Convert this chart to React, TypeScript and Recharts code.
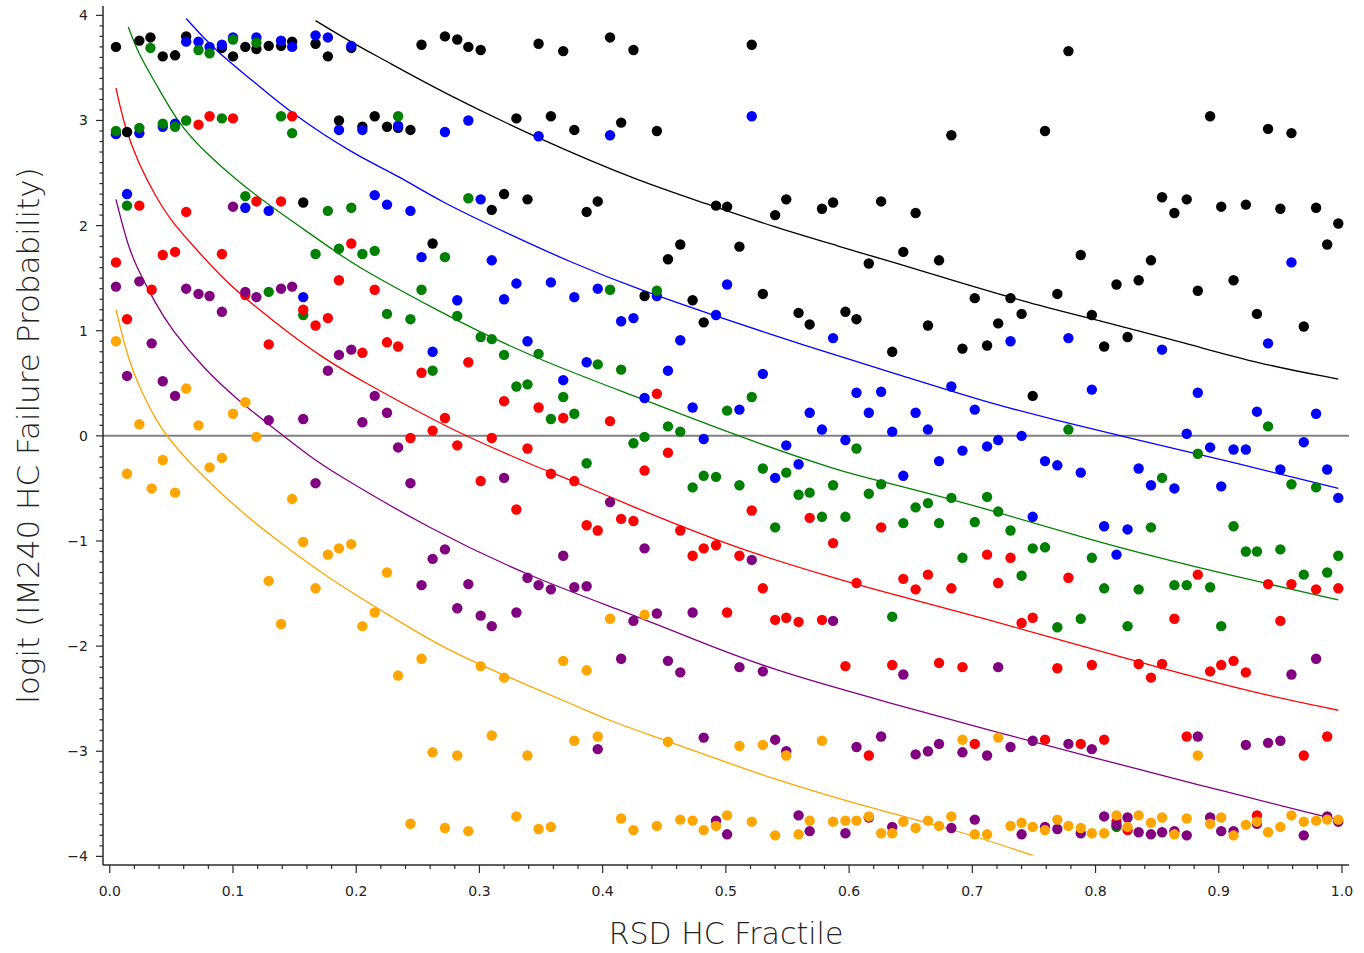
import { ComposedChart, Scatter, Line, XAxis, YAxis, ReferenceLine } from "recharts"

type Pt = [number, number]

// ── observed points (x = RSD HC fractile, y = logit failure probability) ─────

const blackPts: Pt[] = [
  [0.005, 3.70], [0.014, 2.89], [0.024, 3.76], [0.033, 3.79], [0.043, 3.61], [0.053, 3.62],
  [0.062, 3.80], [0.091, 3.69], [0.100, 3.61], [0.110, 3.70], [0.119, 3.68], [0.129, 3.71],
  [0.139, 3.71], [0.148, 3.75], [0.157, 2.22], [0.167, 3.73], [0.177, 3.61], [0.186, 3.00],
  [0.196, 3.69], [0.205, 2.94], [0.215, 3.04], [0.225, 2.94], [0.234, 2.93], [0.244, 2.91],
  [0.253, 3.72], [0.262, 1.83], [0.272, 3.80], [0.282, 3.77], [0.291, 3.70], [0.301, 3.67],
  [0.310, 2.15], [0.320, 2.30], [0.330, 3.02], [0.339, 2.25], [0.348, 3.73], [0.358, 3.04],
  [0.368, 3.66], [0.377, 2.91], [0.387, 2.13], [0.396, 2.23], [0.406, 3.79], [0.415, 2.98],
  [0.425, 3.67], [0.434, 1.33], [0.444, 2.90], [0.453, 1.68], [0.463, 1.82], [0.473, 1.29],
  [0.482, 1.08], [0.492, 2.19], [0.501, 2.18], [0.511, 1.80], [0.521, 3.72], [0.530, 1.35],
  [0.540, 2.10], [0.549, 2.25], [0.559, 1.17], [0.568, 1.06], [0.578, 2.16], [0.587, 2.22],
  [0.597, 1.18], [0.606, 1.11], [0.616, 1.64], [0.626, 2.23], [0.635, 0.80], [0.644, 1.75],
  [0.654, 2.12], [0.664, 1.05], [0.673, 1.67], [0.683, 2.86], [0.692, 0.83], [0.702, 1.31],
  [0.712, 0.86], [0.721, 1.07], [0.731, 1.31], [0.740, 1.16], [0.749, 0.38], [0.759, 2.90],
  [0.769, 1.35], [0.778, 3.66], [0.788, 1.72], [0.797, 1.15], [0.807, 0.85], [0.817, 1.44],
  [0.826, 0.94], [0.835, 1.48], [0.845, 1.67], [0.854, 2.27], [0.864, 2.12], [0.874, 2.25],
  [0.883, 1.38], [0.893, 3.04], [0.902, 2.18], [0.912, 1.48], [0.922, 2.20], [0.931, 1.16],
  [0.940, 2.92], [0.950, 2.16], [0.959, 2.88], [0.969, 1.04], [0.979, 2.17], [0.988, 1.82],
  [0.997, 2.02],
]

const bluePts: Pt[] = [
  [0.005, 2.87], [0.014, 2.30], [0.024, 2.88], [0.043, 2.94], [0.053, 2.97], [0.062, 3.75],
  [0.072, 3.75], [0.081, 3.70], [0.091, 3.72], [0.100, 3.79], [0.110, 2.17], [0.119, 3.79],
  [0.129, 2.14], [0.139, 3.76], [0.148, 3.70], [0.157, 1.32], [0.167, 3.81], [0.177, 3.79],
  [0.186, 2.91], [0.196, 3.71], [0.205, 2.91], [0.215, 2.29], [0.225, 2.20], [0.234, 2.95],
  [0.244, 2.14], [0.253, 1.70], [0.262, 0.80], [0.272, 2.89], [0.282, 1.29], [0.291, 3.00],
  [0.301, 2.25], [0.310, 1.67], [0.320, 1.30], [0.330, 1.45], [0.339, 0.90], [0.348, 2.85],
  [0.358, 1.46], [0.368, 0.53], [0.377, 1.32], [0.387, 0.70], [0.396, 1.40], [0.406, 2.86],
  [0.415, 1.09], [0.425, 1.12], [0.434, 0.36], [0.444, 1.33], [0.453, 0.62], [0.463, 0.91],
  [0.473, 0.27], [0.482, -0.03], [0.492, 1.15], [0.501, 1.44], [0.511, 0.25], [0.521, 3.04],
  [0.530, 0.59], [0.540, -0.40], [0.549, -0.09], [0.559, -0.27], [0.568, 0.22], [0.578, 0.06],
  [0.587, 0.93], [0.597, -0.04], [0.606, 0.41], [0.616, 0.22], [0.626, 0.42], [0.635, 0.04],
  [0.644, -0.38], [0.654, 0.22], [0.664, 0.06], [0.673, -0.24], [0.683, 0.47], [0.692, -0.14],
  [0.702, 0.25], [0.712, -0.10], [0.721, -0.04], [0.731, 0.90], [0.740, 0.00], [0.749, -0.77],
  [0.759, -0.24], [0.769, -0.28], [0.778, 0.93], [0.788, -0.35], [0.797, 0.44], [0.807, -0.86],
  [0.817, -1.13], [0.826, -0.89], [0.835, -0.31], [0.845, -0.47], [0.854, 0.82], [0.864, -0.50],
  [0.874, 0.02], [0.883, 0.41], [0.893, -0.11], [0.902, -0.48], [0.912, -0.13], [0.922, -0.13],
  [0.931, 0.23], [0.940, 0.88], [0.950, -0.32], [0.959, 1.65], [0.969, -0.06], [0.979, 0.21],
  [0.988, -0.32], [0.997, -0.59],
]

const greenPts: Pt[] = [
  [0.005, 2.90], [0.014, 2.19], [0.024, 2.93], [0.033, 3.69], [0.043, 2.97], [0.053, 2.94],
  [0.062, 3.00], [0.072, 3.67], [0.081, 3.64], [0.091, 3.02], [0.100, 3.77], [0.110, 2.28],
  [0.119, 3.74], [0.129, 1.37], [0.139, 3.04], [0.148, 2.88], [0.157, 1.15], [0.167, 1.73],
  [0.177, 2.14], [0.186, 1.78], [0.196, 2.17], [0.205, 1.73], [0.215, 1.76], [0.225, 1.16],
  [0.234, 3.04], [0.244, 1.11], [0.253, 1.39], [0.262, 0.62], [0.272, 1.70], [0.282, 1.14],
  [0.291, 2.26], [0.301, 0.94], [0.310, 0.92], [0.320, 0.77], [0.330, 0.47], [0.339, 0.49],
  [0.348, 0.78], [0.358, 0.16], [0.368, 0.37], [0.377, 0.21], [0.387, -0.26], [0.396, 0.68],
  [0.406, 1.39], [0.415, 0.63], [0.425, -0.07], [0.434, -0.01], [0.444, 1.38], [0.453, 0.09],
  [0.463, 0.04], [0.473, -0.49], [0.482, -0.38], [0.492, -0.39], [0.501, 0.24], [0.511, -0.47],
  [0.521, 0.37], [0.530, -0.31], [0.540, -0.87], [0.549, -0.35], [0.559, -0.56], [0.568, -0.54],
  [0.578, -0.77], [0.587, -0.47], [0.597, -0.77], [0.606, -0.12], [0.616, -0.55], [0.626, -0.46],
  [0.635, -1.72], [0.644, -0.83], [0.654, -0.68], [0.664, -0.64], [0.673, -0.83], [0.683, -0.59],
  [0.692, -1.16], [0.702, -0.82], [0.712, -0.58], [0.721, -0.72], [0.731, -0.90], [0.740, -1.33],
  [0.749, -1.07], [0.759, -1.06], [0.769, -1.82], [0.778, 0.06], [0.788, -1.74], [0.797, -1.16],
  [0.807, -1.45], [0.817, -3.72], [0.826, -1.81], [0.835, -1.46], [0.845, -0.87], [0.854, -0.40],
  [0.864, -1.42], [0.874, -1.42], [0.883, -0.17], [0.893, -1.44], [0.902, -1.81], [0.912, -0.86],
  [0.922, -1.10], [0.931, -1.10], [0.940, 0.09], [0.950, -1.08], [0.959, -0.46], [0.969, -1.32],
  [0.979, -0.49], [0.988, -1.30], [0.997, -1.14],
]

const redPts: Pt[] = [
  [0.005, 1.65], [0.014, 1.11], [0.024, 2.19], [0.034, 1.39], [0.043, 1.72], [0.053, 1.75],
  [0.062, 2.13], [0.072, 2.96], [0.081, 3.04], [0.091, 1.73], [0.100, 3.02], [0.110, 1.34],
  [0.119, 2.23], [0.129, 0.87], [0.139, 2.23], [0.148, 3.04], [0.157, 1.20], [0.167, 1.05],
  [0.177, 1.12], [0.186, 1.48], [0.196, 1.83], [0.205, 0.79], [0.215, 1.39], [0.225, 0.89],
  [0.234, 0.85], [0.244, -0.02], [0.253, 0.60], [0.262, 0.05], [0.272, 0.17], [0.282, -0.09],
  [0.291, 0.70], [0.301, -0.43], [0.310, -0.02], [0.320, 0.33], [0.330, -0.70], [0.339, -0.12],
  [0.348, 0.27], [0.358, -0.36], [0.368, 0.17], [0.377, -0.43], [0.387, -0.85], [0.396, -0.90],
  [0.406, 0.14], [0.415, -0.79], [0.425, -0.81], [0.434, -0.33], [0.444, 0.40], [0.453, -0.16],
  [0.463, -0.90], [0.473, -1.14], [0.482, -1.07], [0.492, -1.04], [0.501, -1.68], [0.511, -1.14],
  [0.521, -0.71], [0.530, -1.45], [0.540, -1.75], [0.549, -1.73], [0.559, -1.77], [0.568, -0.78],
  [0.578, -1.75], [0.587, -1.02], [0.597, -2.19], [0.606, -1.40], [0.616, -3.04], [0.626, -0.87],
  [0.635, -2.18], [0.644, -1.36], [0.654, -1.46], [0.664, -1.32], [0.673, -2.16], [0.683, -1.45],
  [0.692, -2.20], [0.702, -2.93], [0.712, -1.13], [0.721, -1.40], [0.731, -1.16], [0.740, -1.78],
  [0.749, -1.73], [0.759, -2.89], [0.769, -2.21], [0.778, -1.35], [0.788, -2.93], [0.797, -2.18],
  [0.807, -2.89], [0.817, -3.67], [0.826, -3.75], [0.835, -2.17], [0.845, -2.30], [0.854, -2.17],
  [0.864, -1.74], [0.874, -2.86], [0.883, -1.32], [0.893, -2.24], [0.902, -2.18], [0.912, -2.14],
  [0.922, -2.25], [0.931, -3.61], [0.940, -1.41], [0.950, -1.76], [0.959, -1.41], [0.969, -3.04],
  [0.979, -1.46], [0.988, -2.86], [0.997, -1.45],
]

const purplePts: Pt[] = [
  [0.005, 1.42], [0.014, 0.57], [0.024, 1.47], [0.034, 0.88], [0.043, 0.52], [0.053, 0.38],
  [0.062, 1.40], [0.072, 1.35], [0.081, 1.33], [0.091, 1.18], [0.100, 2.18], [0.110, 1.37],
  [0.119, 1.32], [0.129, 0.15], [0.139, 1.40], [0.148, 1.42], [0.157, 0.16], [0.167, -0.45],
  [0.177, 0.62], [0.186, 0.77], [0.196, 0.82], [0.205, 0.13], [0.215, 0.38], [0.225, 0.22],
  [0.234, -0.11], [0.244, -0.45], [0.253, -1.42], [0.262, -1.17], [0.272, -1.08], [0.282, -1.64],
  [0.291, -1.41], [0.301, -1.71], [0.310, -1.81], [0.320, -0.40], [0.330, -1.68], [0.339, -1.35],
  [0.348, -1.42], [0.358, -1.46], [0.368, -1.14], [0.377, -1.44], [0.387, -1.43], [0.396, -2.98],
  [0.406, -0.63], [0.415, -2.12], [0.425, -1.76], [0.434, -1.07], [0.444, -1.69], [0.453, -2.14],
  [0.463, -2.25], [0.473, -1.68], [0.482, -2.87], [0.492, -3.66], [0.501, -3.79], [0.511, -2.20],
  [0.521, -1.18], [0.530, -2.24], [0.540, -2.89], [0.549, -3.00], [0.559, -3.61], [0.568, -3.76],
  [0.587, -1.76], [0.597, -3.78], [0.606, -2.96], [0.616, -3.63], [0.626, -2.86], [0.635, -3.72],
  [0.644, -2.27], [0.654, -3.03], [0.664, -3.00], [0.673, -2.93], [0.683, -3.73], [0.692, -3.01],
  [0.702, -3.65], [0.712, -3.04], [0.721, -2.20], [0.731, -2.96], [0.740, -3.79], [0.749, -2.90],
  [0.759, -3.72], [0.769, -3.74], [0.778, -2.93], [0.788, -3.78], [0.797, -2.98], [0.807, -3.62],
  [0.817, -3.70], [0.826, -3.63], [0.835, -3.77], [0.845, -3.79], [0.854, -3.77], [0.864, -3.76],
  [0.874, -3.80], [0.883, -2.86], [0.893, -3.63], [0.902, -3.76], [0.912, -3.76], [0.922, -2.94],
  [0.931, -3.69], [0.940, -2.92], [0.950, -2.90], [0.959, -2.27], [0.969, -3.80], [0.979, -2.12],
  [0.988, -3.62], [0.997, -3.67],
]

const orangePts: Pt[] = [
  [0.005, 0.90], [0.014, -0.36], [0.024, 0.11], [0.034, -0.50], [0.043, -0.23], [0.053, -0.54],
  [0.062, 0.45], [0.072, 0.10], [0.081, -0.30], [0.091, -0.21], [0.100, 0.21], [0.110, 0.32],
  [0.119, -0.01], [0.129, -1.38], [0.139, -1.79], [0.148, -0.60], [0.157, -1.01], [0.167, -1.45],
  [0.177, -1.13], [0.186, -1.07], [0.196, -1.03], [0.205, -1.81], [0.215, -1.68], [0.225, -1.30],
  [0.234, -2.28], [0.244, -3.69], [0.253, -2.12], [0.262, -3.01], [0.272, -3.73], [0.282, -3.04],
  [0.291, -3.76], [0.301, -2.19], [0.310, -2.85], [0.320, -2.30], [0.330, -3.62], [0.339, -3.04],
  [0.348, -3.74], [0.358, -3.72], [0.368, -2.14], [0.377, -2.90], [0.387, -2.23], [0.396, -2.86],
  [0.406, -1.74], [0.415, -3.64], [0.425, -3.75], [0.434, -1.70], [0.444, -3.71], [0.453, -2.91],
  [0.463, -3.65], [0.473, -3.66], [0.482, -3.75], [0.492, -3.71], [0.501, -3.61], [0.511, -2.95],
  [0.521, -3.67], [0.530, -2.94], [0.540, -3.80], [0.549, -3.04], [0.559, -3.79], [0.568, -3.66],
  [0.578, -2.90], [0.587, -3.67], [0.597, -3.66], [0.606, -3.66], [0.616, -3.62], [0.626, -3.78],
  [0.635, -3.78], [0.644, -3.67], [0.654, -3.73], [0.664, -3.66], [0.673, -3.71], [0.683, -3.62],
  [0.692, -2.89], [0.702, -3.79], [0.712, -3.79], [0.721, -2.87], [0.731, -3.71], [0.740, -3.68],
  [0.749, -3.72], [0.759, -3.75], [0.769, -3.65], [0.778, -3.71], [0.788, -3.73], [0.797, -3.78],
  [0.807, -3.78], [0.817, -3.61], [0.826, -3.72], [0.835, -3.61], [0.845, -3.68], [0.854, -3.63],
  [0.864, -3.79], [0.874, -3.64], [0.883, -3.04], [0.893, -3.69], [0.902, -3.63], [0.912, -3.80],
  [0.922, -3.70], [0.931, -3.67], [0.940, -3.77], [0.950, -3.72], [0.959, -3.61], [0.969, -3.67],
  [0.979, -3.66], [0.988, -3.65], [0.997, -3.65],
]

// ── fitted curves ────────────────────────────────────────────────────────────

const blackFit: Pt[] = [
  [0.167, 3.95], [0.195, 3.75], [0.222, 3.58], [0.268, 3.28], [0.349, 2.82], [0.430, 2.42],
  [0.484, 2.21], [0.538, 1.99], [0.593, 1.80], [0.633, 1.66], [0.687, 1.47], [0.741, 1.28],
  [0.795, 1.12], [0.877, 0.87], [0.931, 0.69], [0.997, 0.54],
]

const blueFit: Pt[] = [
  [0.062, 3.97], [0.085, 3.67], [0.118, 3.36], [0.147, 3.07], [0.199, 2.67], [0.235, 2.47],
  [0.268, 2.23], [0.322, 1.93], [0.376, 1.64], [0.430, 1.39], [0.484, 1.17], [0.566, 0.85],
  [0.633, 0.61], [0.714, 0.31], [0.768, 0.15], [0.823, -0.01], [0.904, -0.23], [0.997, -0.50],
]

const greenFit: Pt[] = [
  [0.015, 3.89], [0.023, 3.64], [0.037, 3.36], [0.055, 2.98], [0.077, 2.70], [0.104, 2.42],
  [0.131, 2.18], [0.158, 1.96], [0.180, 1.78], [0.199, 1.62], [0.268, 1.18], [0.295, 1.02],
  [0.349, 0.72], [0.430, 0.36], [0.511, -0.01], [0.593, -0.34], [0.633, -0.45], [0.714, -0.70],
  [0.795, -0.99], [0.877, -1.24], [0.997, -1.56],
]

const redFit: Pt[] = [
  [0.005, 3.31], [0.012, 2.94], [0.023, 2.60], [0.037, 2.28], [0.050, 2.04], [0.069, 1.79],
  [0.093, 1.48], [0.118, 1.23], [0.145, 0.98], [0.172, 0.75], [0.203, 0.53], [0.268, 0.12],
  [0.287, 0.01], [0.349, -0.31], [0.368, -0.39], [0.430, -0.70], [0.449, -0.79], [0.511, -1.08],
  [0.593, -1.37], [0.633, -1.50], [0.714, -1.75], [0.795, -2.02], [0.850, -2.20], [0.931, -2.45],
  [0.997, -2.61],
]

const purpleFit: Pt[] = [
  [0.005, 2.25], [0.015, 1.79], [0.023, 1.58], [0.037, 1.26], [0.050, 1.01], [0.077, 0.63],
  [0.104, 0.34], [0.131, 0.09], [0.164, -0.21], [0.179, -0.33], [0.260, -0.89], [0.341, -1.34],
  [0.422, -1.69], [0.473, -1.93], [0.538, -2.23], [0.633, -2.54], [0.714, -2.80], [0.795, -3.05],
  [0.877, -3.30], [0.985, -3.62], [0.997, -3.65],
]

const orangeFit: Pt[] = [
  [0.005, 1.20], [0.015, 0.72], [0.026, 0.41], [0.039, 0.12], [0.047, -0.01], [0.062, -0.23],
  [0.104, -0.70], [0.131, -0.95], [0.179, -1.37], [0.233, -1.75], [0.268, -2.00], [0.314, -2.25],
  [0.387, -2.61], [0.403, -2.70], [0.457, -2.92], [0.538, -3.27], [0.633, -3.59], [0.687, -3.75],
  [0.749, -3.99],
]

// ── axis labels ──────────────────────────────────────────────────────────────

const xLabels = ["0.0", "0.1", "0.2", "0.3", "0.4", "0.5", "0.6", "0.7", "0.8", "0.9", "1.0"]
const yLabels = ["\u22124", "\u22123", "\u22122", "\u22121", "0", "1", "2", "3", "4"]

const X_MIN = -0.0055
const X_MAX = 1.0057
const Y_MIN = -4.082
const Y_MAX = 4.089

const AXIS = "#2a2a2a"
const FONT = "'DejaVu Sans', sans-serif"

// minor ticks every 0.02 on x, every 0.1 on y
const xTickVals = Array.from({ length: 51 }, (_, i) => i / 50)
const yTickVals = Array.from({ length: 81 }, (_, i) => (i - 40) / 10)

const series = [
  { key: "black", color: "#000000", pts: blackPts, fit: blackFit },
  { key: "blue", color: "#0000ff", pts: bluePts, fit: blueFit },
  { key: "green", color: "#008000", pts: greenPts, fit: greenFit },
  { key: "red", color: "#ff0000", pts: redPts, fit: redFit },
  { key: "purple", color: "#800080", pts: purplePts, fit: purpleFit },
  { key: "orange", color: "#ffa500", pts: orangePts, fit: orangeFit },
]

const toXY = (pts: Pt[]) => pts.map(([x, y]) => ({ x, y }))

function XTick(props: any) {
  const { x, y, payload } = props
  const i = Math.round(payload.value * 50)
  const major = i % 5 === 0
  return (
    <g>
      <line x1={x} x2={x} y1={y} y2={y + (major ? 8 : 4)} stroke={AXIS} strokeWidth={1.2} />
      {major && (
        <text x={x} y={y + 31} textAnchor="middle" fontFamily={FONT} fontSize={14} fill="#222">
          {xLabels[i / 5]}
        </text>
      )}
    </g>
  )
}

function YTick(props: any) {
  const { x, y, payload } = props
  const i = Math.round(payload.value * 10)
  const major = i % 10 === 0
  return (
    <g>
      <line x1={x} x2={x - (major ? 7 : 3.5)} y1={y} y2={y} stroke={AXIS} strokeWidth={1.2} />
      {major && (
        <text x={x - 15} y={y + 5} textAnchor="end" fontFamily={FONT} fontSize={14} fill="#222">
          {yLabels[i / 10 + 4]}
        </text>
      )}
    </g>
  )
}

export default function App() {
  return (
    <div style={{ position: "absolute", left: 0, top: 0, background: "#fff" }}>
      <ComposedChart width={1364} height={953} margin={{ top: 6, right: 15, bottom: 0, left: 0 }}>
        <XAxis
          type="number"
          dataKey="x"
          domain={[X_MIN, X_MAX]}
          allowDataOverflow
          ticks={xTickVals}
          interval={0}
          tick={(p: any) => <XTick {...p} />}
          tickLine={false}
          tickSize={0}
          tickMargin={0}
          height={88}
          axisLine={{ stroke: AXIS, strokeWidth: 1.5 }}
          label={{
            value: "RSD HC Fractile",
            position: "insideBottom",
            offset: 9,
            style: { fontFamily: FONT, fontSize: 30, fill: "#222", fontWeight: 300 },
          }}
        />
        <XAxis
          xAxisId="top"
          orientation="top"
          type="number"
          domain={[X_MIN, X_MAX]}
          allowDataOverflow
          tick={false}
          tickLine={false}
          height={0}
          axisLine={{ stroke: AXIS, strokeWidth: 1.5 }}
        />
        <YAxis
          type="number"
          dataKey="y"
          domain={[Y_MIN, Y_MAX]}
          allowDataOverflow
          ticks={yTickVals}
          interval={0}
          tick={(p: any) => <YTick {...p} />}
          tickLine={false}
          tickSize={0}
          tickMargin={0}
          width={103}
          axisLine={{ stroke: AXIS, strokeWidth: 1.5 }}
          label={{
            value: "logit (IM240 HC Failure Probability)",
            angle: -90,
            position: "insideLeft",
            offset: 28,
            style: { fontFamily: FONT, fontSize: 31, fill: "#222", fontWeight: 300, textAnchor: "middle" },
          }}
        />
        <YAxis
          yAxisId="right"
          orientation="right"
          type="number"
          domain={[Y_MIN, Y_MAX]}
          allowDataOverflow
          tick={false}
          tickLine={false}
          width={0}
          axisLine={{ stroke: AXIS, strokeWidth: 1.5 }}
        />
        <ReferenceLine y={0} stroke="#808080" strokeWidth={2} />
        {series.map((s) => (
          <Scatter
            key={s.key}
            name={s.key}
            data={toXY(s.pts)}
            fill={s.color}
            isAnimationActive={false}
            shape={(p: any) => <circle cx={p.cx} cy={p.cy} r={5.2} fill={s.color} />}
          />
        ))}
        {series.map((s) => (
          <Line
            key={s.key + "-fit"}
            data={toXY(s.fit)}
            dataKey="y"
            type="basis"
            stroke={s.color}
            strokeWidth={1.3}
            dot={false}
            activeDot={false}
            isAnimationActive={false}
          />
        ))}
      </ComposedChart>
    </div>
  )
}
